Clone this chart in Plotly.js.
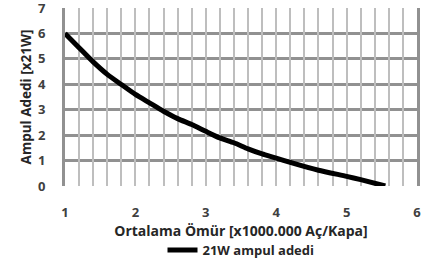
<!DOCTYPE html>
<html>
<head>
<meta charset="utf-8">
<script src="https://cdn.plot.ly/plotly-3.0.1.min.js"></script>
<style>html,body{margin:0;padding:0;background:#fff;}#chart{width:432px;height:259px;}</style>
</head>
<body>
<div id="chart"></div>
<script>
var lifeX = [1, 1.2, 1.4, 1.6, 1.8, 2.0, 2.2, 2.4, 2.6, 2.8, 3.0, 3.2, 3.4, 3.6, 3.8, 4.0, 4.2, 4.6, 5.0, 5.2, 5.55];
var bulbCount = [6, 5.44, 4.88, 4.39, 3.99, 3.6, 3.27, 2.94, 2.65, 2.42, 2.15, 1.89, 1.70, 1.46, 1.26, 1.1, 0.93, 0.62, 0.38, 0.25, 0];
var seriesName = "21W ampul adedi";
var xTitle = "Ortalama Ömür [x1000.000 Aç/Kapa]";
var yTitle = "Ampul Adedi [x21W]";
var xTickVals = [1, 2, 3, 4, 5, 6];
var yTickVals = [0, 1, 2, 3, 4, 5, 6, 7];

var fontFam = "Open Sans, Noto Sans, sans-serif";
var trace = {
  x: lifeX, y: bulbCount, mode: "lines", name: "<b>" + seriesName + "</b>",
  line: {color: "#000", width: 5, shape: "spline", smoothing: 0.6}
};
var minorXTrace = {x: [1, 6], y: [0, 0], xaxis: "x2", yaxis: "y", mode: "markers", marker: {opacity: 0}, showlegend: false, hoverinfo: "skip"};
var layout = {
  width: 432, height: 259,
  margin: {l: 65, r: 15, t: 8, b: 73, autoexpand: false},
  paper_bgcolor: "#fff", plot_bgcolor: "rgba(0,0,0,0)",
  font: {family: fontFam, color: "#404040"},
  showlegend: true,
  legend: {orientation: "h", x: 0.5, xanchor: "center", y: -0.36, yanchor: "middle",
           font: {size: 13, family: fontFam, color: "#262626"}},
  xaxis2: {
    overlaying: "x", matches: "x", range: [1, 6], dtick: 0.2, tick0: 1, showgrid: true,
    gridcolor: "rgb(190,190,190)", gridwidth: 1.5, showticklabels: false, ticks: "", zeroline: false, layer: "below traces"
  },
  xaxis: {
    range: [1, 6], tickmode: "array", tickvals: xTickVals,
    ticktext: xTickVals.map(function(v){return "<b>" + v + "</b>";}),
    showgrid: false, showline: false, zeroline: false,
    ticks: "outside", ticklen: 14, tickcolor: "rgba(0,0,0,0)",
    tickfont: {size: 13, color: "#404040", family: fontFam},
    title: {text: "<b>" + xTitle + "</b>", standoff: 1, font: {size: 14, color: "#262626", family: fontFam}}
  },
  yaxis: {
    range: [0, 7], tickmode: "array", tickvals: yTickVals, ticklabeloverflow: "allow",
    ticktext: yTickVals.map(function(v){return "<b>" + v + "</b>";}),
    showgrid: true, gridcolor: "rgb(145,145,145)", gridwidth: 3,
    showline: true, linecolor: "rgb(145,145,145)", linewidth: 3, mirror: true, zeroline: false,
    ticks: "outside", ticklen: 14, tickcolor: "rgba(0,0,0,0)",
    tickfont: {size: 13, color: "#404040", family: fontFam},
    title: {text: "<b>" + yTitle + "</b>", standoff: 4, font: {size: 13.5, color: "#262626", family: fontFam}}
  }
};
Plotly.newPlot("chart", [minorXTrace, trace], layout, {displayModeBar: false});
</script>
</body>
</html>
